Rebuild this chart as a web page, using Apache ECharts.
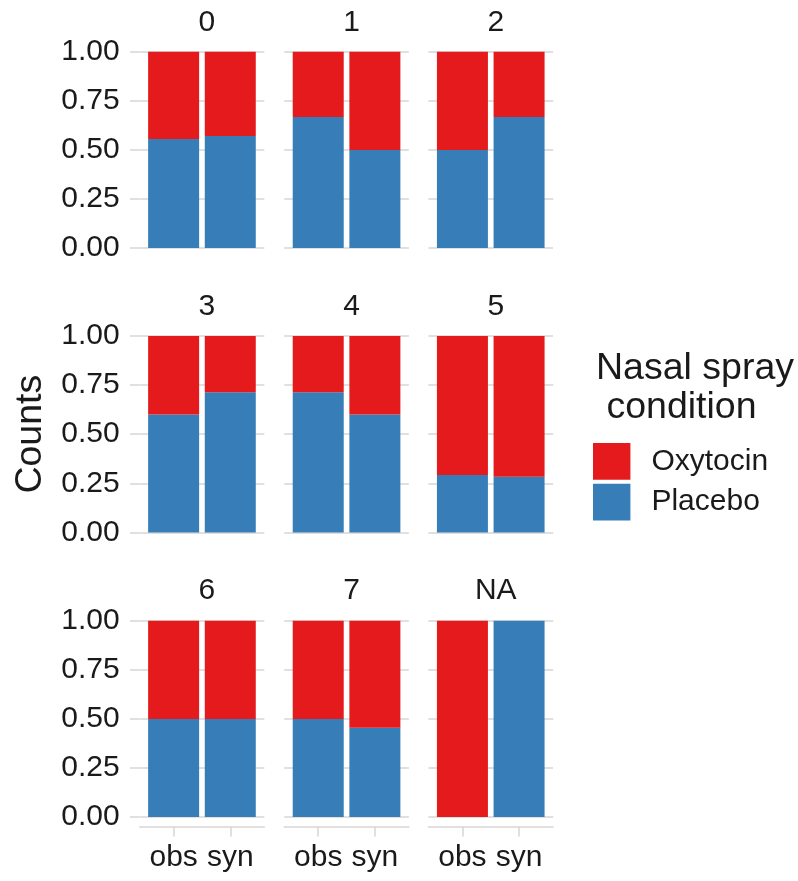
<!DOCTYPE html>
<html><head><meta charset="utf-8">
<script src="https://cdn.jsdelivr.net/npm/echarts@6/dist/echarts.min.js"></script>
<style>html,body{margin:0;padding:0;background:#fff}#c{width:798px;height:881px}</style>
</head><body><div id="c"></div>
<script>
// ---- data ----
const facets = ['0', '1', '2', '3', '4', '5', '6', '7', 'NA'];
const sources = ['obs', 'syn'];
const placebo = [[0.556, 0.571], [0.667, 0.5], [0.5, 0.667], [0.6, 0.714], [0.714, 0.6], [0.292, 0.283], [0.5, 0.5], [0.5, 0.455], [0, 1]];
const oxytocin = [[0.444, 0.429], [0.333, 0.5], [0.5, 0.333], [0.4, 0.286], [0.286, 0.4], [0.708, 0.717], [0.5, 0.5], [0.5, 0.545], [1, 0]];
const conditions = ['Oxytocin', 'Placebo'];
const yTicks = [0, 0.25, 0.5, 0.75, 1];

// ---- layout ----
const FONT = 'Liberation Sans';
const TXT = '#1a1a1a';
const GRIDC = '#d6d6d6';
const colLeft = [139.6, 284.2, 428.4];
const panelW = 124.7;
const barInset = 5.7;           // inner (bar) grid inset so bars sit like ggplot's discrete scale
const rowTop = [51.7, 336, 620.7];
const panelH = 196.4;
const colors = { Oxytocin: '#E41A1C', Placebo: '#377EB8' };

const grids = [], xAxes = [], yAxes = [], series = [], titles = [];
facets.forEach((f, i) => {
  const r = Math.floor(i / 3), c = i % 3;
  const bottom = r === 2, first = c === 0;
  const gA = 2 * i, gB = 2 * i + 1;
  // outer panel grid: gridlines, y labels, x axis line
  grids.push({ left: colLeft[c], top: rowTop[r], width: panelW, height: panelH });
  // inner grid: bars, x ticks and labels
  grids.push({ left: colLeft[c] + barInset, top: rowTop[r], width: panelW - 2 * barInset, height: panelH });

  xAxes.push({
    gridIndex: gA, type: 'category', data: sources, offset: 9.5,
    axisLine: { show: bottom, onZero: false, lineStyle: { color: GRIDC, width: 1.5 } },
    axisTick: { show: false }, axisLabel: { show: false }, splitLine: { show: false }
  });
  xAxes.push({
    gridIndex: gB, type: 'category', data: sources, offset: 9.5,
    axisLine: { show: false, onZero: false },
    axisTick: { show: bottom, interval: 0, alignWithLabel: true, length: 10, lineStyle: { color: GRIDC, width: 1.5 } },
    axisLabel: { show: bottom, interval: 0, hideOverlap: false, margin: 16, fontSize: 30, fontFamily: FONT, color: TXT },
    splitLine: { show: false }
  });

  const ya = {
    gridIndex: gA, type: 'value', min: yTicks[0], max: yTicks[yTicks.length - 1], interval: 0.25,
    axisLine: { show: false },
    axisTick: { show: first, length: 9.6, lineStyle: { color: GRIDC, width: 1.5 } },
    splitLine: { show: true, lineStyle: { color: GRIDC, width: 1.5 } },
    axisLabel: { show: first, margin: 20, fontSize: 30, fontFamily: FONT, color: TXT, formatter: v => v.toFixed(2) }
  };
  if (i === 3) {
    Object.assign(ya, {
      name: 'Counts', nameLocation: 'middle', nameGap: 90,
      nameTextStyle: { fontSize: 37.5, fontFamily: FONT, color: TXT }
    });
  }
  yAxes.push(ya);
  yAxes.push({ gridIndex: gB, type: 'value', min: yTicks[0], max: yTicks[yTicks.length - 1], show: false, splitLine: { show: false } });

  series.push({
    name: 'Placebo', type: 'bar', xAxisIndex: gB, yAxisIndex: gB, stack: 's' + i, barWidth: 51,
    itemStyle: { color: colors.Placebo }, silent: true, data: placebo[i]
  });
  series.push({
    name: 'Oxytocin', type: 'bar', xAxisIndex: gB, yAxisIndex: gB, stack: 's' + i, barWidth: 51,
    itemStyle: { color: colors.Oxytocin }, silent: true, data: oxytocin[i]
  });
  titles.push({
    text: f, left: colLeft[c] + panelW / 2, top: [3, 287, 571][r], textAlign: 'center',
    textStyle: { fontSize: 30, fontWeight: 'normal', fontFamily: FONT, color: TXT }
  });
});
titles.push({
  text: 'Nasal spray\n condition', left: 591, top: 345,
  textStyle: { fontSize: 37.5, lineHeight: 38.3, fontWeight: 'normal', fontFamily: FONT, color: TXT }
});

const chart = echarts.init(document.getElementById('c'), null, { renderer: 'canvas' });
chart.setOption({
  animation: false,
  backgroundColor: '#fff',
  title: titles,
  grid: grids,
  xAxis: xAxes,
  yAxis: yAxes,
  legend: {
    data: conditions, orient: 'vertical', left: 593, top: 443, icon: 'rect', padding: 0,
    itemWidth: 37.4, itemHeight: 36.7, itemGap: 4, selectedMode: false,
    textStyle: { fontSize: 30, fontFamily: FONT, color: TXT, padding: [0, 0, 0, 16] }
  },
  series: series
});
</script></body></html>
